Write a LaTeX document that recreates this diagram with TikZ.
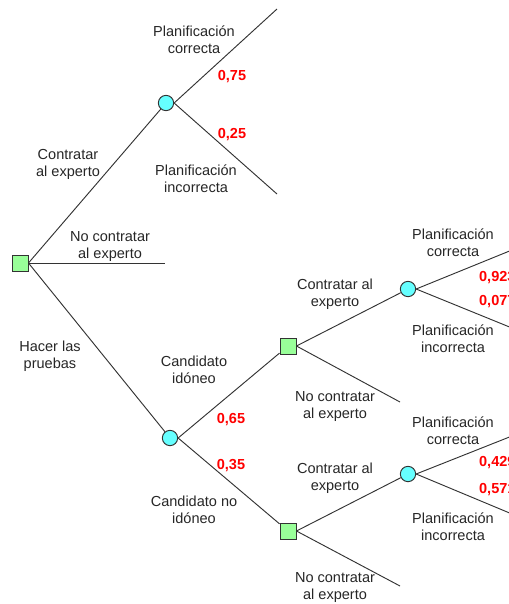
\documentclass[tikz,border=0pt]{standalone}
\usepackage{fontspec}
\setmainfont{Liberation Sans}
\usepackage{xcolor}
\usepackage{tikz}
\usetikzlibrary{positioning}
\definecolor{dtgreen}{HTML}{99FF99}
\definecolor{dtcyan}{HTML}{66FFFF}
\definecolor{dtgray}{HTML}{333333}
\definecolor{dtred}{HTML}{FF0000}

\begin{document}
\begin{tikzpicture}[
  x=0.03cm, y=-0.03cm,
  decision/.style={
    rectangle, draw=dtgray, fill=dtgreen, line width=0.8pt,
    minimum size=0.48cm, inner sep=0pt
  },
  chance/.style={
    circle, draw=dtgray, fill=dtcyan, line width=0.8pt,
    minimum size=0.46cm, inner sep=0pt
  },
  branch/.style={line width=0.8pt, color=dtgray},
  lbl/.style={font=\fontsize{12.4}{14.5}\selectfont, align=center, text=black!85, yshift=-1.7pt},
  prob/.style={font=\fontsize{12.4}{14.5}\selectfont\bfseries, text=dtred, yshift=-1.7pt},
]
\useasboundingbox (0,0) rectangle (509,604);
\clip (0,0) rectangle (509,604);

% Decision and chance nodes
\node[decision] (root) at (20,263) {};
\node[chance] (expert) at (166,103) {};
\node[chance] (tests) at (170,438) {};
\node[decision] (good) at (288,346) {};
\node[decision] (bad) at (288,531) {};
\node[chance] (goodexp) at (408,289) {};
\node[chance] (badexp) at (408,474) {};

% Leaf ends
\coordinate (e1) at (277,9);
\coordinate (e2) at (277,194);
\coordinate (e3) at (165,263);
\coordinate (e4) at (400,402);
\coordinate (e5) at (400,586);
\coordinate (e6) at (512,250);
\coordinate (e7) at (512,328);
\coordinate (e8) at (512,436);
\coordinate (e9) at (512,514);

% Branches
\draw[branch] (root.east) -- (expert);
\draw[branch] (root.east) -- (e3);
\draw[branch] (root.east) -- (tests);
\draw[branch] (expert.east) -- (e1);
\draw[branch] (expert.east) -- (e2);
\draw[branch] (tests.east) -- (good);
\draw[branch] (tests.east) -- (bad);
\draw[branch] (good.east) -- (goodexp);
\draw[branch] (good.east) -- (e4);
\draw[branch] (bad.east) -- (badexp);
\draw[branch] (bad.east) -- (e5);
\draw[branch] (goodexp.east) -- (e6);
\draw[branch] (goodexp.east) -- (e7);
\draw[branch] (badexp.east) -- (e8);
\draw[branch] (badexp.east) -- (e9);

% Labels
\node[lbl] (l1) at (194,38) {Planificación\\correcta};
\node[lbl] (l2) at (196,177) {Planificación\\incorrecta};
\node[lbl] (l3) at (68,162) {Contratar\\al experto};
\node[lbl] (l4) at (110,245) {No contratar\\al experto};
\node[lbl] (l5) at (50,354) {Hacer las\\pruebas};
\node[lbl] (l6) at (194,368) {Candidato\\idóneo};
\node[lbl] (l7) at (194,508) {Candidato no\\idóneo};
\node[lbl] (l8) at (335,292) {Contratar al\\experto};
\node[lbl] (l9) at (335,405) {No contratar\\al experto};
\node[lbl] (l10) at (335,476) {Contratar al\\experto};
\node[lbl] (l11) at (335,586) {No contratar\\al experto};
\node[lbl] (l12) at (453,241) {Planificación\\correcta};
\node[lbl] (l13) at (453,337) {Planificación\\incorrecta};
\node[lbl] (l14) at (453,429) {Planificación\\correcta};
\node[lbl] (l15) at (453,525) {Planificación\\incorrecta};

% Probabilities
\node[prob] (p1) at (232,75) {0,75};
\node[prob] (p2) at (232,133) {0,25};
\node[prob] (p3) at (231,418) {0,65};
\node[prob] (p4) at (231,464) {0,35};
\node[prob, anchor=west] (p5) at (475,276) {0,923};
\node[prob, anchor=west] (p6) at (475,300) {0,077};
\node[prob, anchor=west] (p7) at (475,461) {0,429};
\node[prob, anchor=west] (p8) at (475,488) {0,571};
\end{tikzpicture}
\end{document}
